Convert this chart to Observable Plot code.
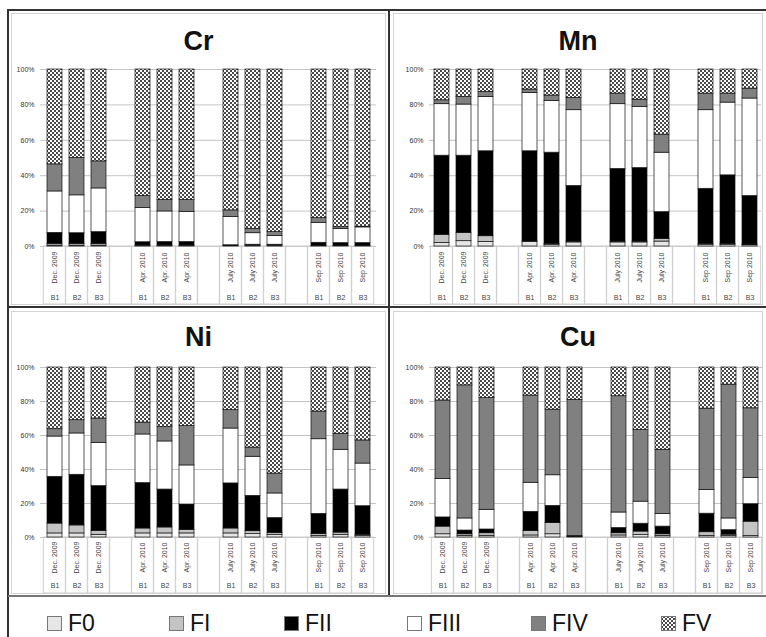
<!DOCTYPE html>
<html><head><meta charset="utf-8">
<script src="https://cdn.jsdelivr.net/npm/d3@7"></script>
<script src="https://cdn.jsdelivr.net/npm/@observablehq/plot@0.6"></script>
<style>
body{margin:0;background:#fff;font-family:"Liberation Sans",Arial,sans-serif;}
#root{position:relative;width:766px;height:637px;overflow:hidden;background:#fff;}
.panel{position:absolute;box-sizing:border-box;}
.inner{position:absolute;left:3px;top:3px;right:3px;bottom:3px;border:1px solid #d4d4d4;}
.title{position:absolute;left:0;right:0;height:30px;line-height:30px;text-align:center;font-weight:bold;font-size:27px;color:#111;}
.panel svg{position:absolute;left:0;top:0;}
.line{position:absolute;background:#333;}
.leg{position:absolute;top:609px;height:28px;display:flex;align-items:center;font-size:23px;color:#111;}
.leg svg{margin-right:6px;}
</style></head><body>
<svg width="0" height="0" style="position:absolute"><defs>
<pattern id="fvPat" width="4" height="4" patternUnits="userSpaceOnUse">
<rect width="4" height="4" fill="#4a4a4a"/><rect width="2" height="2" fill="#fff"/><rect x="2" y="2" width="2" height="2" fill="#fff"/>
</pattern></defs></svg>
<div id="root"></div>
<script>
// ---- data ----
const metals = ["Cr", "Mn", "Ni", "Cu"];
const fractions = ["F0", "FI", "FII", "FIII", "FIV", "FV"];
const dates = ["Dec. 2009", "Apr. 2010", "July 2010", "Sep 2010"];
const sites = ["B1", "B2", "B3"];
const yTicks = [0, 20, 40, 60, 80, 100];

// percentage of each fraction, bars in order Dec B1..B3, Apr B1..B3, July B1..B3, Sep B1..B3
const crValues = {
  F0:   [0.5, 0.5, 0.5, 0.3, 0.3, 0.3, 0.2, 0.3, 0.3, 0.3, 0.3, 0.3],
  FI:   [1.0, 1.0, 1.0, 0.3, 0.3, 0.3, 0.2, 0.3, 0.3, 0.2, 0.2, 0.2],
  FII:  [6.2, 6.0, 6.6, 1.8, 1.9, 1.9, 0.3, 0.4, 0.4, 1.6, 1.4, 1.4],
  FIII: [23.4, 21.4, 24.7, 19.3, 17.3, 17.1, 15.9, 6.5, 5.0, 11.3, 8.1, 8.9],
  FIV:  [15.3, 21.1, 15.3, 6.8, 6.4, 6.6, 3.8, 2.5, 2.1, 2.6, 0.9, 0.4],
  FV:   [53.6, 50.0, 51.9, 71.5, 73.8, 73.8, 79.6, 90.0, 91.9, 84.0, 89.1, 88.8]
};
const mnValues = {
  F0:   [2.0, 3.0, 2.5, 2.5, 1.0, 2.3, 2.3, 2.3, 2.8, 1.0, 1.0, 0.7],
  FI:   [4.6, 4.7, 3.3, 0.3, 0.5, 0.5, 0.5, 0.5, 1.5, 0.5, 0.5, 0.4],
  FII:  [44.7, 43.6, 48.0, 51.0, 51.5, 31.4, 41.0, 41.5, 15.1, 31.1, 38.7, 27.4],
  FIII: [29.1, 28.9, 30.7, 33.0, 29.3, 42.8, 36.6, 34.6, 33.6, 44.4, 41.1, 55.1],
  FIV:  [2.2, 4.3, 2.9, 1.9, 3.0, 7.0, 6.0, 4.1, 10.2, 9.4, 5.1, 5.6],
  FV:   [17.4, 15.5, 12.6, 11.3, 14.7, 16.0, 13.6, 17.0, 36.8, 13.6, 13.6, 10.8]
};
const niValues = {
  F0:   [2.4, 2.4, 1.6, 2.4, 2.4, 2.4, 2.4, 2.0, 1.6, 1.0, 1.6, 1.0],
  FI:   [5.8, 4.7, 2.3, 2.9, 3.5, 2.1, 2.9, 1.7, 1.1, 1.0, 1.3, 0.6],
  FII:  [27.5, 29.8, 26.3, 26.7, 22.3, 14.9, 26.5, 20.8, 8.7, 11.9, 25.3, 16.8],
  FIII: [23.7, 24.3, 25.5, 28.6, 28.3, 23.0, 32.3, 23.0, 14.5, 43.9, 23.4, 25.1],
  FIV:  [4.3, 7.8, 14.3, 7.0, 8.4, 23.1, 10.8, 5.4, 11.7, 16.3, 9.4, 13.6],
  FV:   [36.3, 31.0, 30.0, 32.4, 35.1, 34.5, 25.1, 47.1, 62.4, 25.9, 39.0, 42.9]
};
const cuValues = {
  F0:   [1.9, 1.0, 1.0, 1.2, 1.9, 0.3, 1.2, 1.4, 1.0, 1.0, 1.0, 0.8],
  FI:   [4.5, 0.9, 1.5, 2.7, 6.6, 0.2, 1.3, 2.1, 0.9, 2.1, 0.7, 8.5],
  FII:  [5.4, 2.2, 2.2, 11.2, 10.1, 0.1, 3.1, 4.6, 4.5, 10.9, 2.6, 10.3],
  FIII: [22.7, 7.1, 11.6, 17.1, 18.0, 0.2, 9.1, 13.0, 7.4, 13.9, 6.9, 15.5],
  FIV:  [46.1, 78.3, 65.7, 51.3, 38.6, 80.2, 68.4, 42.1, 37.8, 47.9, 78.7, 40.9],
  FV:   [19.4, 10.5, 18.0, 16.5, 24.8, 19.0, 16.9, 36.8, 48.4, 24.2, 10.1, 24.0]
};
const metalValues = {Cr: crValues, Mn: mnValues, Ni: niValues, Cu: cuValues};
const fractionColors = ["#e6e6e6", "#c4c4c4", "#000000", "#ffffff", "#808080", "url(#fvPat)"];

// ---- layout ----
const layout = {
  Cr: {left: 8,   top: 10,  width: 381, height: 298, ml: 32, mr: 13, mt: 59, mb: 62, titleC: 31, dateDy: 21, siteDy: 51},
  Mn: {left: 390, top: 10,  width: 376, height: 298, ml: 39, mr: 5,  mt: 59, mb: 62, titleC: 31, dateDy: 21, siteDy: 51},
  Ni: {left: 8,   top: 308, width: 381, height: 289, ml: 32, mr: 13, mt: 59, mb: 60, titleC: 29, dateDy: 20, siteDy: 48},
  Cu: {left: 390, top: 308, width: 376, height: 289, ml: 39, mr: 3,  mt: 59, mb: 60, titleC: 29, dateDy: 20, siteDy: 48}
};

const root = document.getElementById("root");

function addLine(l, t, w, h, c) {
  const d = document.createElement("div");
  d.className = "line";
  Object.assign(d.style, {left: l + "px", top: t + "px", width: w + "px", height: h + "px"});
  if (c) d.style.background = c;
  root.appendChild(d);
}

function makePanel(name) {
  const L = layout[name];
  const values = metalValues[name];
  const keys = [];
  dates.forEach((d, di) => {
    sites.forEach(s => keys.push(d + "|" + s));
    if (di < dates.length - 1) keys.push("gap" + di);
  });
  const rows = [];
  const labels = [];
  let bi = 0;
  dates.forEach(d => sites.forEach(s => {
    fractions.forEach(f => rows.push({key: d + "|" + s, fraction: f, value: values[f][bi]}));
    labels.push({key: d + "|" + s, date: d, site: s});
    bi++;
  }));
  const plotW = L.width - L.ml - L.mr;
  const plotH = L.height - L.mt - L.mb;
  const step = plotW / keys.length;
  const pad = step * 0.33 / 2;
  const depth = (L.mb - 4) * 100 / plotH;

  const panel = document.createElement("div");
  panel.className = "panel";
  Object.assign(panel.style, {left: L.left + "px", top: L.top + "px", width: L.width + "px", height: L.height + "px"});
  const inner = document.createElement("div");
  inner.className = "inner";
  panel.appendChild(inner);

  const chart = Plot.plot({
    width: L.width, height: L.height,
    marginLeft: L.ml, marginRight: L.mr, marginTop: L.mt, marginBottom: L.mb,
    style: {fontFamily: "Liberation Sans, Arial, sans-serif", background: "transparent", overflow: "visible"},
    x: {domain: keys, paddingInner: 0.33, paddingOuter: 0.165, axis: null},
    y: {domain: [0, 100], label: null},
    color: {domain: fractions, range: fractionColors},
    marks: [
      Plot.gridY(yTicks, {stroke: "#c4c4c4", strokeOpacity: 1}),
      Plot.barY(keys.map(k => ({key: k})), {x: "key", y1: 0, y2: -depth, fill: "none", stroke: "#cfcfcf", strokeWidth: 1, insetLeft: -pad, insetRight: -pad}),
      Plot.axisY(yTicks, {tickSize: 0, tickPadding: 6, tickFormat: d => d + "%", fontSize: 7, fill: "#333", label: null}),
      Plot.barY(rows, {x: "key", y: "value", fill: "fraction", stroke: "#111", strokeWidth: 0.7}),
      Plot.text(labels, {x: "key", y: 0, dy: L.dateDy, text: "date", rotate: -90, fontSize: 7, fill: "#444"}),
      Plot.text(labels, {x: "key", y: 0, dy: L.siteDy, text: "site", fontSize: 7, fill: "#444"})
    ]
  });
  panel.appendChild(chart);

  const title = document.createElement("div");
  title.className = "title";
  title.style.top = (L.titleC - 15) + "px";
  title.textContent = name;
  panel.appendChild(title);
  root.appendChild(panel);
}

metals.forEach(makePanel);

// frame lines
addLine(7, 9, 759, 2);
addLine(7, 9, 2, 628);
addLine(388, 9, 2, 588);
addLine(8, 306, 758, 2);
addLine(8, 595, 758, 2, "#777");

// legend
const legendX = [47, 169, 284, 407, 531, 661];
fractions.forEach((f, i) => {
  const item = document.createElement("div");
  item.className = "leg";
  item.style.left = legendX[i] + "px";
  item.innerHTML = `<svg width="15" height="15"><rect x="0.5" y="0.5" width="14" height="14" fill="${fractionColors[i]}" stroke="#777"/></svg><span>${f}</span>`;
  root.appendChild(item);
});
</script>
</body></html>
